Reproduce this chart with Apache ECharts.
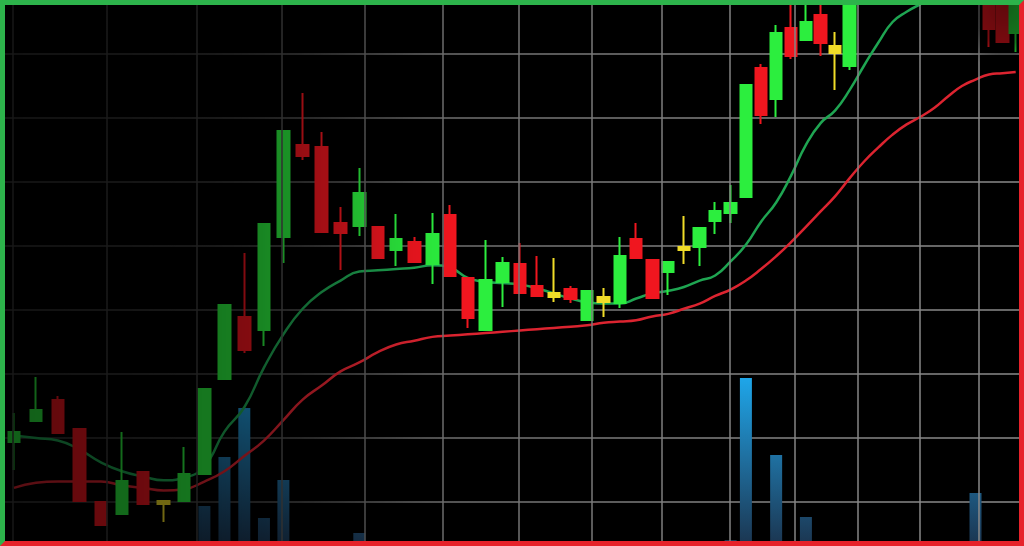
<!DOCTYPE html>
<html>
<head>
<meta charset="utf-8">
<script src="https://cdn.jsdelivr.net/npm/echarts@6/dist/echarts.min.js"></script>
<style>
html,body{margin:0;padding:0;background:#000;}
#wrap{position:relative;width:1024px;height:546px;box-sizing:border-box;border-style:solid;border-width:5px;border-color:#2db34b #e6222a #e6222a #2db34b;background:#000;overflow:hidden;}
#chart{position:absolute;left:0;top:0;width:1014px;height:536px;}
#shade{position:absolute;left:0;top:0;width:1014px;height:536px;pointer-events:none;z-index:10;
background:
 radial-gradient(ellipse 55px 65px at 1000px 0px, rgba(0,0,0,0.6) 0%, rgba(0,0,0,0.5) 60%, rgba(0,0,0,0) 100%),
 linear-gradient(to right, rgba(0,0,0,0.6) 0px, rgba(0,0,0,0.56) 120px, rgba(0,0,0,0.5) 200px, rgba(0,0,0,0.45) 250px, rgba(0,0,0,0.36) 300px, rgba(0,0,0,0.27) 336px, rgba(0,0,0,0.15) 373px, rgba(0,0,0,0.06) 410px, rgba(0,0,0,0) 450px);}
</style>
</head>
<body>
<div id="wrap"><div id="chart"></div><div id="shade"></div></div>
<script>
// Trading days (numbered); x axis is logarithmic to mimic the photo's perspective
const dayNumbers = [87,88,89,90,91,92,93,94,95,96,97,98,99,100,101,102,103,104,105,106,
  107,108,109,110,111,112,113,114,115,116,117,118,119,120,121,122,123,124,125,126,
  127,128,129,130,131,132,133,134,135,136,137,138,139,140,141,142,143,144,145,146];

const openP = [9.69,11.33,12.97,10.70,5.00,4.06,7.34,5.08,5.08,7.19,
  14.61,19.45,18.44,25.70,32.89,32.73,26.80,26.56,26.48,24.69,
  25.31,23.59,27.42,22.50,18.44,22.19,23.59,21.88,21.33,21.64,
  19.22,21.02,20.55,25.55,23.91,22.97,24.92,24.92,26.95,27.58,
  28.83,38.91,36.48,42.03,41.09,43.05,40.63,39.06,45.8,47.4,
  46.9,48.6,49.5,48.8,49.9,48.7,47.5,45.00,45.39,41.64];

const closeP = [10.47,12.19,10.39,5.08,3.20,6.64,4.84,4.84,7.19,13.83,
  20.39,16.88,26.72,33.98,32.03,26.09,26.02,29.14,24.06,25.55,
  23.75,25.94,22.66,19.38,22.34,23.67,21.33,21.09,21.02,20.86,
  21.48,20.63,24.22,24.06,20.94,23.75,24.69,26.41,27.73,28.36,
  37.58,35.23,41.64,39.84,42.50,40.86,40.08,45.78,47.4,46.9,
  48.6,49.5,48.8,49.9,48.7,47.5,46.2,41.95,40.94,45.39];

const lowP = [7.50,11.33,10.39,5.08,3.20,4.06,4.84,3.44,5.08,7.19,
  14.61,16.64,17.19,23.67,31.72,26.09,23.13,25.78,24.06,23.44,
  23.75,22.03,22.66,18.59,18.44,20.23,21.33,21.09,20.63,20.55,
  19.22,19.45,20.16,24.06,20.94,21.17,23.59,23.44,25.94,26.80,
  28.83,34.53,35.08,39.61,41.09,39.84,37.19,38.75,45.1,46.3,
  46.4,48.0,48.1,48.3,48.0,46.8,45.4,40.55,40.94,40.16];

const highP = [11.95,14.77,13.28,10.70,5.00,10.47,7.34,5.16,9.30,13.83,
  20.39,24.45,26.72,33.98,36.95,33.91,28.05,31.09,26.48,27.50,
  25.70,27.58,28.20,22.50,25.47,24.14,25.23,24.22,24.06,21.88,
  21.48,21.72,25.70,26.80,23.91,23.75,27.34,26.41,28.44,29.77,
  37.58,39.22,42.27,45.00,44.40,44.30,41.72,46.56,48.0,48.2,
  49.2,50.1,50.3,50.6,50.2,49.1,47.9,45.78,46.17,46.17];

// moving averages as drawn in the picture
const maFast = [10.2,10.0,9.8,9.1,8.1,7.4,7.0,6.7,6.9,7.8,
  10.5,12.4,15.5,18.1,20.1,21.4,22.3,23.0,23.1,23.2,
  23.3,23.5,23.3,22.5,22.2,22.1,22.0,21.7,21.3,20.9,
  20.6,20.5,20.5,20.9,21.3,21.5,21.8,22.3,22.7,23.8,
  25.1,26.9,28.4,30.5,32.9,34.6,35.6,37.2,39.1,40.9,
  42.5,43.3,43.9,44.4,44.8,45.3,45.8,46.2,46.6,47.0];

const maSlow = [6.1,6.5,6.6,6.6,6.6,6.3,6.1,5.9,6.0,6.6,
  7.4,8.6,9.8,11.4,13.0,14.1,15.2,15.9,16.7,17.3,
  17.6,17.9,18.0,18.1,18.2,18.3,18.4,18.5,18.6,18.7,
  18.8,19.0,19.1,19.2,19.5,19.7,20.1,20.5,21.1,21.6,
  22.3,23.2,24.2,25.3,26.5,27.7,28.9,30.3,31.6,32.7,
  33.7,34.5,35.1,35.8,36.7,37.5,38.0,38.4,38.5,38.6];

const volume = [0,0,0,0,0,0,0,0,0,600,
  1090,1580,480,860,0,0,0,330,0,0,
  0,0,0,0,0,0,0,0,0,0,
  0,0,0,0,0,0,0,0,0,260,
  1880,0,1110,0,490,0,0,0,0,0,
  0,0,0,0,0,0,730,0,0,0];

// positions of the vertical grid lines (in day units)
const gridDays = [86.95,91.28,95.61,99.94,104.27,108.60,112.93,117.26,121.59,125.92,130.25,134.58,138.91,143.24];

const UP = '#2cee3e', DOWN = '#f0161f', DOJI = '#f0dc28';

const gridColor = {
  type: 'linear', x: 0, y: 0, x2: 1014, y2: 0, global: true,
  colorStops: [
    { offset: 0, color: '#3a3a3a' },
    { offset: 0.2, color: '#424242' },
    { offset: 0.42, color: '#6e6e6e' },
    { offset: 0.7, color: '#828282' },
    { offset: 1, color: '#8a8a8a' }
  ]
};

const candleData = dayNumbers.map((d, i) => {
  const item = { value: [d, openP[i], closeP[i], lowP[i], highP[i]] };
  if (Math.abs(closeP[i] - openP[i]) < 0.6) {
    item.itemStyle = { color: DOJI, color0: DOJI, borderColor: DOJI, borderColor0: DOJI };
  }
  return item;
});

const chart = echarts.init(document.getElementById('chart'), null, { renderer: 'canvas' });
chart.setOption({
  backgroundColor: '#000',
  animation: false,
  grid: { left: 0, right: 0, top: -15, bottom: -25, outerBoundsMode: 'none', containLabel: false },
  xAxis: {
    type: 'log', logBase: 10, min: 86.6, max: 146.25,
    axisLine: { show: false }, axisTick: { show: false }, axisLabel: { show: false },
    splitLine: { show: false }, minorSplitLine: { show: false }
  },
  yAxis: [
    {
      type: 'value', min: 0, max: 45, interval: 5,
      axisLine: { show: false }, axisTick: { show: false }, axisLabel: { show: false },
      splitLine: { show: true, lineStyle: { color: gridColor, width: 1.5 } }
    },
    { type: 'value', min: 0, max: 5760, show: false, splitLine: { show: false } }
  ],
  series: [
    {
      type: 'line', data: [], silent: true, z: 1,
      markLine: {
        silent: true, symbol: ['none', 'none'], label: { show: false },
        emphasis: { disabled: true },
        lineStyle: { color: gridColor, width: 1.5, type: 'solid' },
        data: gridDays.map(d => ({ xAxis: d }))
      }
    },
    {
      type: 'bar', yAxisIndex: 1, z: 2, barWidth: 12,
      data: dayNumbers.map((d, i) => [d, volume[i]]),
      itemStyle: {
        color: {
          type: 'linear', x: 0, y: 370, x2: 0, y2: 540, global: true,
          colorStops: [{ offset: 0, color: '#1ea8ec' }, { offset: 0.5, color: '#1f6e9e' }, { offset: 1, color: '#1b3550' }]
        }
      }
    },
    {
      type: 'line', z: 3, smooth: true, showSymbol: false,
      data: dayNumbers.map((d, i) => [d, maSlow[i]]),
      lineStyle: { color: '#dc2430', width: 2.5 }
    },
    {
      type: 'line', z: 3, smooth: true, showSymbol: false,
      data: dayNumbers.map((d, i) => [d, maFast[i]]),
      lineStyle: { color: '#1fa552', width: 2.5 }
    },
    {
      type: 'candlestick', z: 4, barWidth: 12,
      encode: { x: 0, y: [1, 2, 3, 4] },
      data: candleData,
      itemStyle: { color: UP, color0: DOWN, borderColor: UP, borderColor0: DOWN, borderWidth: 2 }
    }
  ]
});
</script>
</body>
</html>
